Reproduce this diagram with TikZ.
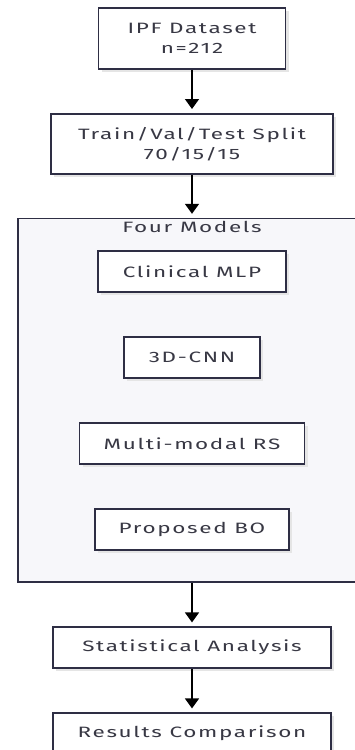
\documentclass[tikz,border=0pt]{standalone}
\usepackage{fontspec}
\setmainfont{Fira Sans}[FakeStretch=1.5, LetterSpace=11]
\usepackage{xcolor}
\usetikzlibrary{positioning, fit, backgrounds, shadows, arrows.meta}
\definecolor{boxline}{HTML}{2E2E44}
\definecolor{groupfill}{HTML}{F7F7FA}
\definecolor{textgrey}{HTML}{383844}
\tikzstyle{process} = [rectangle, minimum height=41pt, text centered, align=center, draw=boxline, line width=1.6pt, fill=white, text=textgrey, font=\fontsize{15}{20}\selectfont, drop shadow={shadow xshift=3pt, shadow yshift=-3pt, fill=black!10, opacity=1}]
\tikzstyle{group} = [rectangle, draw=boxline, line width=1.6pt, fill=groupfill]
\tikzstyle{arrow} = [line width=1.6pt, -{Triangle[width=14pt,length=10pt]}, shorten >=4pt]

\begin{document}
\begin{tikzpicture}[x=1pt, y=1pt, node distance=43.4pt]
\useasboundingbox (0,0) rectangle (355,-750);

\node (dataset) [process, minimum width=187pt, minimum height=61pt, anchor=north] at (192,-7) {IPF Dataset\\n=212};

\node (split) [process, minimum width=282pt, minimum height=60pt, below=of dataset] {Train/Val/Test Split\\70/15/15};

\node (mlp) [process, minimum width=188pt, below=75.5pt of split] {Clinical MLP};

\node (cnn) [process, minimum width=136pt, below=of mlp] {3D-CNN};

\node (mrs) [process, minimum width=225pt, below=of cnn] {Multi-modal RS};

\node (bo) [process, minimum width=194pt, below=of mrs] {Proposed BO};

% group box behind the models
\begin{scope}[on background layer]
\node (models) [group, fit=(mlp)(cnn)(mrs)(bo), inner xsep=61pt, inner ysep=31.5pt] {};
\end{scope}
\node (title) [below=0pt of models.north, inner sep=3pt, text=textgrey, font=\fontsize{15}{20}\selectfont] {Four Models};

\node (stats) [process, minimum width=278pt, below=of models] {Statistical Analysis};

\node (results) [process, minimum width=278pt, below=of stats] {Results Comparison};

% Arrows
\draw [arrow] (dataset) -- (split);
\draw [arrow] (split) -- (models);
\draw [arrow] (models) -- (stats);
\draw [arrow] (stats) -- (results);

\end{tikzpicture}
\end{document}
